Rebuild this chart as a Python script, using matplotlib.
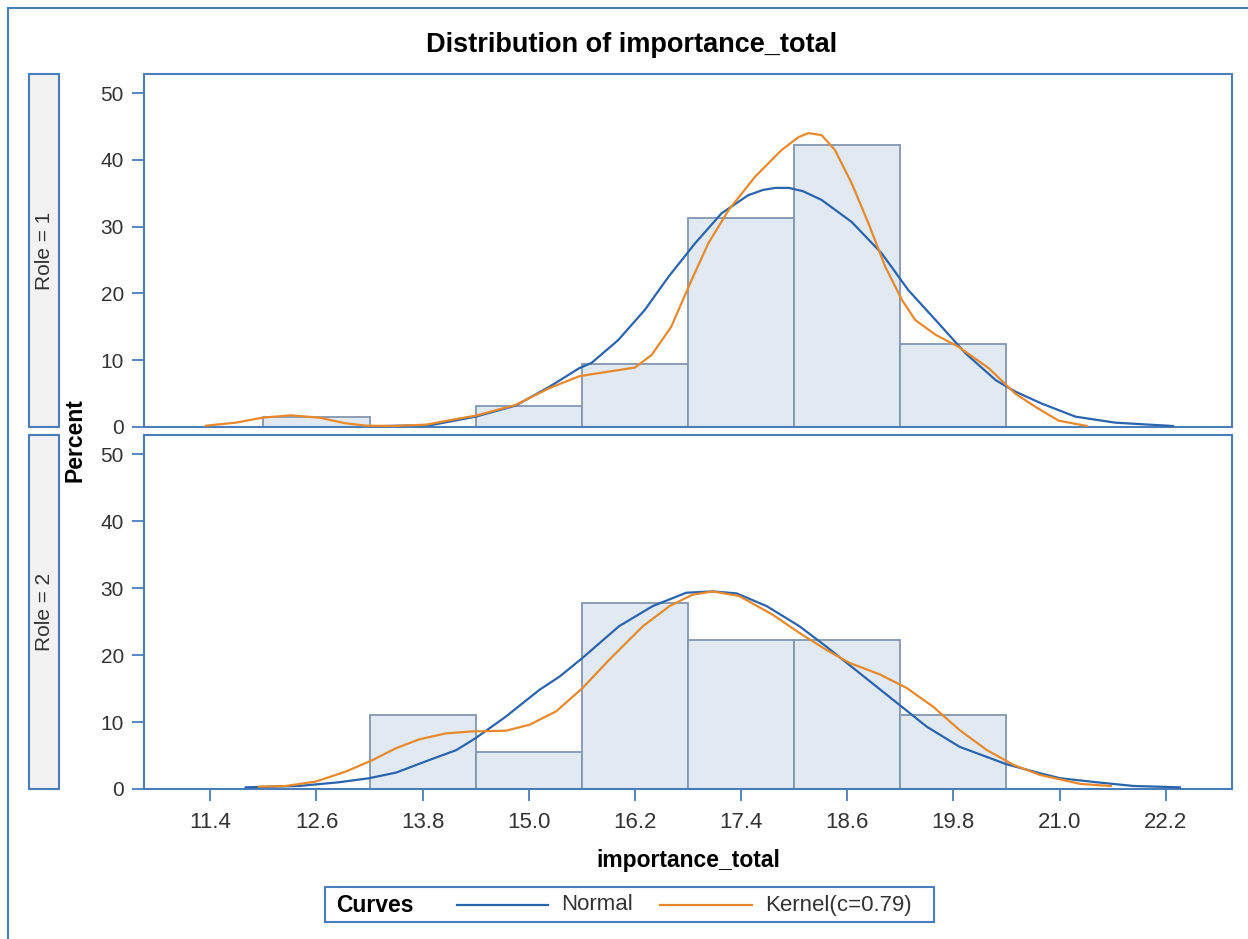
import numpy as np
import matplotlib
matplotlib.use('Agg')
import matplotlib.pyplot as plt
from matplotlib.patches import Rectangle
from matplotlib.lines import Line2D

plt.rcParams['font.family'] = ['Liberation Sans', 'DejaVu Sans']

# histogram bins (midpoints) and percents per Role
bin_mid = [12.6, 13.8, 15.0, 16.2, 17.4, 18.6, 19.8]
pct_role1 = [1.5625, 0.0, 3.125, 9.375, 31.25, 42.1875, 12.5]
pct_role2 = [0.0, 11.11, 5.56, 27.78, 22.22, 22.22, 11.11]
bin_width = 1.2

x_ticks = [11.4, 12.6, 13.8, 15.0, 16.2, 17.4, 18.6, 19.8, 21.0, 22.2]
y_ticks = [0, 10, 20, 30, 40, 50]

# curves
normal1_x = [13.2, 13.9, 14.40, 14.85, 15.23, 15.57, 15.71, 16.01, 16.31, 16.58, 16.88, 17.18,
             17.48, 17.65, 17.79, 17.94, 18.10, 18.31, 18.65, 18.99, 19.29, 19.60, 19.94, 20.28,
             20.50, 20.80, 21.18, 21.63, 22.28]
normal1_y = [0.1, 0.3, 1.55, 3.2, 6.0, 8.8, 9.6, 13.0, 17.5, 22.5, 27.5, 32.0,
             34.7, 35.5, 35.8, 35.8, 35.3, 34.0, 30.7, 26.0, 20.5, 16.0, 11.0, 7.0,
             5.3, 3.5, 1.55, 0.65, 0.15]
kernel1_x = [11.35, 11.69, 11.99, 12.31, 12.63, 12.93, 13.16, 13.46, 13.84, 14.18, 14.40,
             14.85, 15.23, 15.57, 15.71, 16.20, 16.39, 16.61, 16.84, 17.03, 17.26, 17.56,
             17.86, 18.05, 18.16, 18.31, 18.46, 18.65, 18.84, 19.03, 19.22, 19.37, 19.60,
             19.86, 20.20, 20.50, 20.73, 20.99, 21.31]
kernel1_y = [0.2, 0.65, 1.4, 1.75, 1.4, 0.55, 0.2, 0.15, 0.35, 1.2, 1.7,
             3.3, 5.8, 7.6, 7.9, 8.9, 10.8, 15.0, 22.0, 27.5, 32.5, 37.5,
             41.5, 43.4, 44.0, 43.7, 41.5, 36.5, 30.5, 24.0, 19.0, 16.0, 13.8,
             12.0, 8.8, 5.0, 3.0, 0.95, 0.15]
normal2_x = [11.80, 12.40, 12.85, 13.19, 13.50, 13.87, 14.18, 14.40, 14.74, 15.12, 15.35,
             15.61, 16.02, 16.40, 16.78, 17.08, 17.35, 17.69, 18.06, 18.36, 18.74, 19.12,
             19.50, 19.87, 20.40, 20.78, 21.01, 21.46, 21.84, 22.36]
normal2_y = [0.25, 0.45, 1.0, 1.6, 2.45, 4.3, 5.8, 7.6, 10.8, 14.8, 16.8,
             19.6, 24.3, 27.3, 29.3, 29.5, 29.2, 27.3, 24.3, 21.3, 17.3, 13.3,
             9.3, 6.3, 3.7, 2.35, 1.6, 0.95, 0.45, 0.25]
kernel2_x = [11.95, 12.25, 12.59, 12.93, 13.23, 13.50, 13.76, 14.06, 14.36, 14.74, 15.01,
             15.31, 15.61, 15.91, 16.29, 16.59, 16.85, 17.08, 17.38, 17.76, 18.06, 18.36,
             18.63, 18.97, 19.27, 19.57, 19.87, 20.18, 20.48, 20.78, 21.24, 21.58]
kernel2_y = [0.35, 0.45, 1.1, 2.6, 4.3, 6.1, 7.4, 8.3, 8.6, 8.7, 9.6,
             11.6, 15.1, 19.3, 24.3, 27.3, 29.0, 29.5, 28.8, 26.0, 23.3, 20.8,
             18.8, 17.1, 15.1, 12.3, 8.8, 5.8, 3.6, 2.1, 0.75, 0.45]

W, H = 1248, 939
frame_col = '#4a7ebb'
blue = '#2a64ad'
orange = '#e8892c'
bar_fill = '#e1e9f2'
bar_edge = '#8296b0'
txt_col = '#333333'

fig = plt.figure(figsize=(W / 100, H / 100), dpi=100)


def fx(px):
    return px / W


def fy(py):
    return 1 - py / H


def panel(top, bottom, pct, nx, ny, kx, ky, label, show_x):
    ax = fig.add_axes([fx(144), fy(bottom), fx(1232 - 144), (bottom - top) / H])
    ax.bar(bin_mid, pct, width=bin_width, color=bar_fill, edgecolor=bar_edge, linewidth=1.3, zorder=1)
    ax.plot(nx, ny, color=blue, linewidth=1.6, zorder=3)
    ax.plot(kx, ky, color=orange, linewidth=1.6, zorder=3)
    ax.set_xlim(10.65, 22.95)
    ax.set_ylim(0, 52.85)
    ax.set_xticks(x_ticks)
    ax.set_xticklabels(['%.1f' % v for v in x_ticks])
    ax.set_yticks(y_ticks)
    for s in ax.spines.values():
        s.set_color(frame_col)
        s.set_linewidth(1.5)
    ax.tick_params(axis='both', colors=frame_col, labelcolor=txt_col, length=8.5, width=1.3,
                   direction='out')
    ax.tick_params(axis='y', pad=6, labelsize=15)
    ax.tick_params(axis='x', pad=8, labelsize=16, bottom=show_x, labelbottom=show_x)
    # row header box
    fig.patches.append(Rectangle((fx(29), fy(bottom)), fx(30), (bottom - top) / H,
                                 transform=fig.transFigure, facecolor='#f2f2f2',
                                 edgecolor=frame_col, linewidth=1.5))
    fig.text(fx(44), fy((top + bottom) / 2), label, rotation=90, ha='center', va='center',
             fontsize=15, color=txt_col)
    return ax


panel(74, 427, pct_role1, normal1_x, normal1_y, kernel1_x, kernel1_y, 'Role = 1', False)
panel(435, 789, pct_role2, normal2_x, normal2_y, kernel2_x, kernel2_y, 'Role = 2', True)

# outer frame
fig.patches.append(Rectangle((fx(8), fy(960)), fx(1260), 952 / H, transform=fig.transFigure,
                             facecolor='none', edgecolor=frame_col, linewidth=1.5))

fig.text(fx(632), fy(45), 'Distribution of importance_total', ha='center', va='center',
         fontsize=19.5, fontweight='bold', color='black')
fig.text(fx(75), fy(440), 'Percent', rotation=90, ha='center', va='center',
         fontsize=16.5, fontweight='bold', color='black')
fig.text(fx(688), fy(860), 'importance_total', ha='center', va='center',
         fontsize=16.5, fontweight='bold', color='black')

# legend
fig.patches.append(Rectangle((fx(325), fy(922)), fx(609), 35 / H, transform=fig.transFigure,
                             facecolor='white', edgecolor=frame_col, linewidth=1.5))
fig.text(fx(336), fy(905), 'Curves', ha='left', va='center', fontsize=16.5,
         fontweight='bold', color='black')
fig.add_artist(Line2D([fx(457), fx(548)], [fy(905), fy(905)], color=blue, linewidth=1.6))
fig.text(fx(561), fy(905), 'Normal', ha='left', va='center', fontsize=16, color=txt_col)
fig.add_artist(Line2D([fx(660), fx(752)], [fy(905), fy(905)], color=orange, linewidth=1.6))
fig.text(fx(765), fy(905), 'Kernel(c=0.79)', ha='left', va='center', fontsize=16, color=txt_col)

fig.savefig('out.png', dpi=100)
